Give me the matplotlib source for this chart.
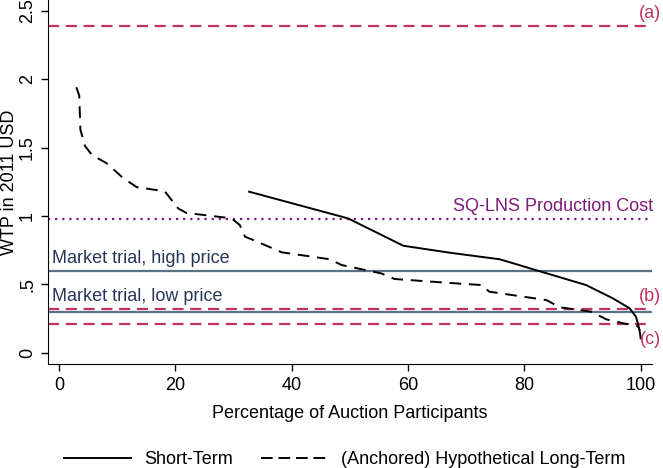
import matplotlib
matplotlib.use('Agg')
import matplotlib.pyplot as plt
from matplotlib.lines import Line2D

plt.rcParams['font.family'] = ['Liberation Sans', 'DejaVu Sans']

# short-term WTP curve
short_x = [32.7, 49.7, 59.2, 67.2, 75.8, 81.5, 90.6, 95.2, 98.1, 99.2, 99.8, 100.0]
short_y = [1.177, 0.982, 0.782, 0.731, 0.683, 0.61, 0.495, 0.398, 0.325, 0.263, 0.166, 0.105]

# (anchored) hypothetical long-term WTP curve
long_x = [3.0, 3.5, 3.7, 4.5, 5.7, 8.2, 11.1, 13.4, 18.2, 20.5, 22.0, 24.3, 29.7, 31.1,
          32.0, 33.4, 38.3, 46.6, 48.6, 55.4, 57.7, 67.2, 72.6, 74.0, 83.8, 86.1, 91.5,
          94.1, 97.0, 99.0, 99.6, 99.8]
long_y = [1.94, 1.88, 1.63, 1.51, 1.445, 1.385, 1.275, 1.21, 1.18, 1.055, 1.02, 1.01, 0.982,
          0.933, 0.848, 0.824, 0.734, 0.683, 0.641, 0.58, 0.539, 0.51, 0.495, 0.446, 0.385,
          0.332, 0.30, 0.244, 0.215, 0.20, 0.19, 0.165]

# reference levels
ref_a = 2.39
ref_b = 0.32
ref_c = 0.21
prod_cost = 0.98
market_high = 0.60
market_low = 0.30

crimson = '#c1325e'
purple = '#7e1a7a'
slate = '#5b7282'
navy = '#26355a'

fig = plt.figure(figsize=(6.63, 4.68), dpi=100)
ax = fig.add_axes([0.073, 0.222, 0.910, 0.778])

ax.axhline(ref_a, color=crimson, lw=1.6, ls=(0, (5, 3)))
ax.axhline(ref_b, color=crimson, lw=1.6, ls=(0, (5, 3)))
ax.axhline(ref_c, color=crimson, lw=1.6, ls=(0, (5, 3)))
ax.axhline(prod_cost, color=purple, lw=1.6, ls=(0, (1, 2.2)))
ax.axhline(market_high, color=slate, lw=1.6)
ax.axhline(market_low, color=slate, lw=1.6)

ax.plot(short_x, short_y, color='black', lw=1.4)
ax.plot(long_x, long_y, color='black', lw=1.4, ls=(0, (6, 4)))

fs = 13
ax.text(103.5, ref_a + 0.03, '(a)', color=crimson, fontsize=fs, ha='right', va='bottom',
        clip_on=False)
ax.text(103.5, ref_b + 0.03, '(b)', color=crimson, fontsize=fs, ha='right', va='bottom',
        clip_on=False)
ax.text(103.5, ref_c - 0.05, '(c)', color=crimson, fontsize=fs, ha='right', va='top',
        clip_on=False)
ax.text(102.2, prod_cost + 0.03, 'SQ-LNS Production Cost', color=purple, fontsize=fs,
        ha='right', va='bottom', clip_on=False)
ax.text(-1.2, market_high + 0.03, 'Market trial, high price', color=navy, fontsize=fs,
        ha='left', va='bottom')
ax.text(-1.2, market_low + 0.05, 'Market trial, low price', color=navy, fontsize=fs,
        ha='left', va='bottom')

ax.set_xlim(-1.8, 101.9)
ax.set_ylim(-0.083, 2.578)
ax.set_xticks([0, 20, 40, 60, 80, 100])
ax.set_yticks([0, 0.5, 1, 1.5, 2, 2.5])
ax.set_yticklabels(['0', '.5', '1', '1.5', '2', '2.5'], rotation=90, va='center')
ax.tick_params(labelsize=fs, length=5, width=1, direction='out', pad=4)
for s in ['top', 'right']:
    ax.spines[s].set_visible(False)
ax.set_xlabel('Percentage of Auction Participants', fontsize=fs)
ax.xaxis.set_label_coords(0.5, -0.113)
ax.set_ylabel('WTP in 2011 USD', fontsize=fs)
ax.yaxis.set_label_coords(-0.05, 0.5)

handles = [Line2D([], [], color='black', lw=1.4),
           Line2D([], [], color='black', lw=1.4, ls=(0, (6, 3)))]
fig.legend(handles, ['Short-Term', '(Anchored) Hypothetical Long-Term'], loc='lower center',
           bbox_to_anchor=(0.52, -0.035), ncol=2, frameon=False, fontsize=fs,
           handlelength=3.7, handletextpad=0.7, columnspacing=1.6)

fig.savefig('out.png', dpi=100)
